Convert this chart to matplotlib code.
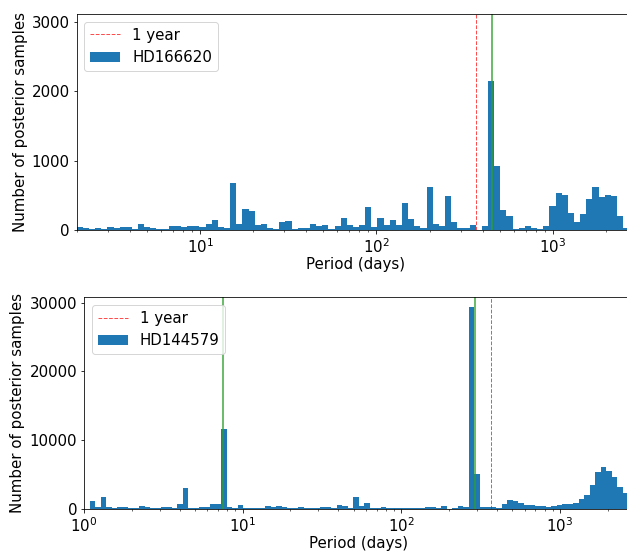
import matplotlib
matplotlib.use('Agg')
import matplotlib.pyplot as plt
from matplotlib.ticker import MultipleLocator
import numpy as np

plt.rcParams['font.size'] = 15

one_year = 365.25

# HD166620: log-spaced bins between top_lo and top_hi
top_name = 'HD166620'
top_lo, top_hi = 2.0, 2930.0
top_counts = [43, 29, 14, 29, 14, 43, 29, 43, 43, 14,
              87, 43, 29, 14, 14, 58, 58, 43, 58, 58,
              43, 87, 144, 43, 29, 683, 87, 303, 274, 72,
              87, 29, 14, 115, 130, 14, 29, 29, 87, 58,
              72, 14, 58, 173, 72, 43, 72, 332, 43, 173,
              72, 144, 72, 389, 159, 58, 29, 620, 87, 58,
              490, 115, 29, 29, 72, 0, 58, 2150, 923, 288,
              202, 14, 29, 58, 29, 14, 58, 346, 534, 505,
              245, 115, 231, 447, 620, 476, 505, 490, 202, 29,
              100]
top_periods = [451.0]
top_ymax = 3115
top_ystep = 1000

# HD144579
bot_name = 'HD144579'
bot_lo, bot_hi = 1.0, 2924.0
bot_counts = [0, 1160, 290, 1740, 290, 145, 290, 290, 145, 145,
              435, 290, 145, 145, 290, 290, 145, 725, 3040, 145,
              145, 290, 290, 725, 725, 11600, 290, 145, 580, 145,
              145, 145, 145, 435, 290, 435, 290, 145, 145, 290,
              145, 145, 145, 290, 290, 145, 580, 435, 145, 1740,
              435, 870, 145, 145, 290, 145, 145, 145, 145, 145,
              145, 145, 290, 290, 145, 435, 0, 145, 435, 290,
              29300, 5070, 290, 290, 290, 145, 725, 1300, 1160, 870,
              580, 580, 435, 435, 290, 435, 580, 725, 725, 870,
              1450, 2030, 3480, 5360, 6090, 5510, 4640, 3190, 2320, 1800]
bot_periods = [7.5, 290.0]
bot_ystep = 10000


def draw_panel(ax, lo, hi, counts, periods, name, ystep):
    edges = np.logspace(np.log10(lo), np.log10(hi), len(counts) + 1)
    mids = np.sqrt(edges[:-1] * edges[1:])
    ax.axvline(one_year, color='red', linestyle='--', linewidth=1, alpha=0.7, label='1 year')
    ax.hist(mids, bins=edges, weights=counts, color='tab:blue', label=name)
    for p in periods:
        ax.axvline(p, color='tab:green', linewidth=2, alpha=0.7)
    ax.set_xscale('log')
    ax.set_xlim(lo, hi)
    ax.yaxis.set_major_locator(MultipleLocator(ystep))
    ax.set_xlabel('Period (days)', labelpad=1)
    ax.set_ylabel('Number of posterior samples')
    ax.legend(loc='upper left')


fig = plt.figure(figsize=(627 / 72, 552 / 72), dpi=72)
# axes run past the right edge of the picture, as in the reference
ax1 = fig.add_axes([0.1223, 0.5833, 0.891, 0.3913])
ax2 = fig.add_axes([0.134, 0.0779, 0.877, 0.3835])

draw_panel(ax1, top_lo, top_hi, top_counts, top_periods, top_name, top_ystep)
ax1.set_ylim(0, top_ymax)
draw_panel(ax2, bot_lo, bot_hi, bot_counts, bot_periods, bot_name, bot_ystep)

fig.savefig('out.png', dpi=72)
